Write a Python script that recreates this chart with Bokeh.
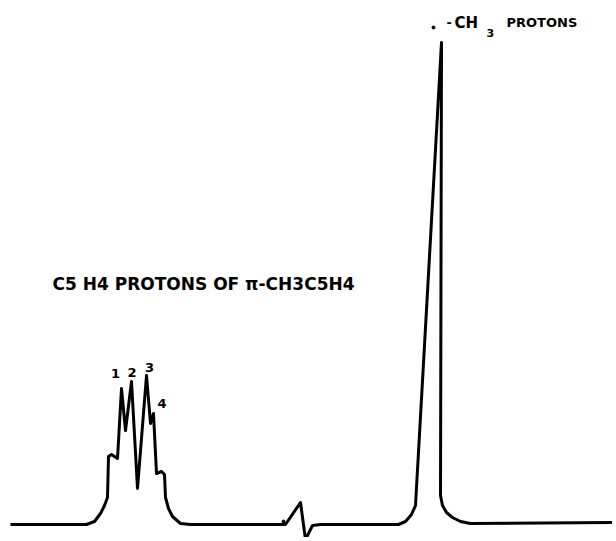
from bokeh.plotting import figure
from bokeh.embed import file_html
from bokeh.resources import INLINE
from bokeh.core.properties import value

# Spectrum trace: horizontal position (chart units) and signal height above baseline
shift = [10, 86, 94, 100, 104, 107, 108, 111, 117, 121, 125, 131, 137, 146, 150, 153,
         156, 161, 164, 165, 168, 172, 180, 190, 285, 300, 305, 312, 320, 398, 405,
         411, 415, 441, 440, 442, 446, 452, 460, 470, 616]
signal = [0, 0, 3, 11, 19, 27, 68, 70, 66, 136, 94, 143, 36, 149, 101, 111,
          51, 53, 50, 27, 16, 8, 1, 0, 0, 22, -15, -1, 0, 0, 3,
          10, 19, 482, 29, 19, 12, 7, 3, 1, 2]

# Multiplet peak labels
peak_labels = ["1", "2", "3", "4"]
peak_x = [115, 131.5, 149, 161.5]
peak_y = [151, 152, 157, 121]

# Stray pen marks
dot_x = [283, 433]
dot_y = [3, 497]

p = figure(width=612, height=537, x_range=(0, 612), y_range=(-13, 524),
           output_backend="svg", toolbar_location=None, min_border=0)
p.axis.visible = False
p.grid.visible = False
p.outline_line_color = None
p.background_fill_color = "white"
p.border_fill_color = "white"

p.line(shift, signal, line_color="black", line_width=3, line_join="round")
p.scatter(dot_x, dot_y, size=3, color="black")

font = value("DejaVu Sans")
p.text(peak_x, peak_y, text=peak_labels, text_font=font, text_font_style="bold",
       text_font_size="13px", text_align="center", text_baseline="middle", text_color="black")

p.text([52], [241], text=["C5 H4 PROTONS OF π-CH3C5H4"], text_font=font,
       text_font_style="bold", text_font_size="17px", text_align="left",
       text_baseline="middle", text_color="black")

p.text([446], [502], text=["-"], text_font=font, text_font_style="bold",
       text_font_size="13px", text_align="left", text_baseline="middle", text_color="black")
p.text([454], [502], text=["CH"], text_font=font, text_font_style="bold",
       text_font_size="15px", text_align="left", text_baseline="middle", text_color="black")
p.text([486], [492], text=["3"], text_font=font, text_font_style="bold",
       text_font_size="11px", text_align="left", text_baseline="middle", text_color="black")
p.text([506], [502], text=["PROTONS"], text_font=font, text_font_style="bold",
       text_font_size="13px", text_align="left", text_baseline="middle", text_color="black")

open("out.html", "w").write(file_html(p, INLINE))
